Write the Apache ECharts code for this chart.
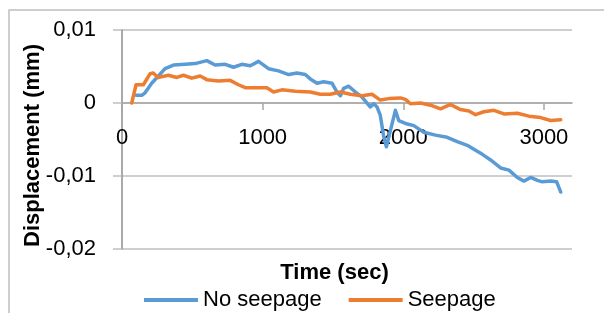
<!DOCTYPE html>
<html>
<head>
<meta charset="utf-8">
<script src="https://cdn.jsdelivr.net/npm/echarts@6/dist/echarts.min.js"></script>
<style>
html,body{margin:0;padding:0;background:#fff;}
#c{width:604px;height:313px;}
</style>
</head>
<body>
<div id="c"></div>
<script>
// ---- data ----
const seriesNames = ['No seepage', 'Seepage'];
const xTicks = [0, 1000, 2000, 3000];
const xTickLabels = ['0', '1000', '2000', '3000'];
const yTicks = [-0.02, -0.01, 0, 0.01];
const yTickLabels = ['-0,02', '-0,01', '0', '0,01'];

const noSeepageTime = [100,140,164,211,259,306,366,449,520,603,662,734,793,852,912,971,1000,1042,1113,1185,1244,1303,1339,1387,1434,1494,1529,1553,1576,1612,1660,1707,1766,1790,1814,1837,1860,1880,1944,1968,2016,2075,2146,2229,2312,2384,2455,2526,2560,2621,2692,2752,2811,2858,2906,2954,2989,3048,3091,3120];
const noSeepageDisp = [0.00105,0.00105,0.0014,0.0027,0.0037,0.0047,0.0052,0.0053,0.0054,0.0058,0.0052,0.0053,0.0049,0.0053,0.0051,0.0057,0.0053,0.0047,0.0044,0.0039,0.0041,0.0039,0.0033,0.0027,0.0029,0.0027,0.0015,0.0010,0.0020,0.0023,0.0015,0.0008,-0.00055,-0.0001,-0.00055,-0.0017,-0.0045,-0.0060,-0.0010,-0.0024,-0.0028,-0.0031,-0.0040,-0.0044,-0.0047,-0.0053,-0.0058,-0.0066,-0.0070,-0.0078,-0.0089,-0.0092,-0.0102,-0.0107,-0.0102,-0.0106,-0.0108,-0.0107,-0.0108,-0.0122];

const seepageTime = [69,100,152,199,222,256,330,390,437,496,556,603,686,769,828,876,947,1030,1078,1137,1232,1339,1410,1481,1553,1624,1707,1778,1837,1897,1980,2016,2051,2123,2194,2265,2336,2407,2467,2514,2573,2645,2716,2811,2894,2977,3048,3120];
const seepageDisp = [0,0.0025,0.0025,0.0040,0.0041,0.0035,0.0038,0.0035,0.0038,0.0034,0.0037,0.0032,0.0030,0.0031,0.0025,0.0021,0.0021,0.0021,0.0015,0.0018,0.0016,0.0015,0.0012,0.0012,0.0015,0.0012,0.0010,0.0012,0.0004,0.0006,0.0007,0.0005,-0.0001,0.0,-0.0003,-0.0008,-0.0002,-0.0009,-0.0011,-0.0016,-0.0012,-0.0010,-0.0015,-0.0014,-0.0018,-0.0020,-0.0024,-0.0023];

const pairs = (xs, ys) => xs.map((x, i) => [x, ys[i]]);
const nearestLabel = (ticks, labels, v) => {
  let best = 0, d = Infinity;
  ticks.forEach((t, i) => { if (Math.abs(t - v) < d) { d = Math.abs(t - v); best = i; } });
  return labels[best];
};
const FONT = '"Liberation Sans", Arial, sans-serif';

const GRID = {left: 122, right: 32, top: 30, bottom: 64};
const Y_MIN = -0.02, Y_MAX = 0.01;
// move the x axis (line, ticks, labels) up to the y = 0 position
const plotH = 313 - GRID.top - GRID.bottom;
const xAxisOffset = -Math.round(plotH * (0 - Y_MIN) / (Y_MAX - Y_MIN));

const chart = echarts.init(document.getElementById('c'), null, {renderer: 'canvas'});
chart.setOption({
  animation: false,
  backgroundColor: '#ffffff',
  color: ['#5B9BD5', '#ED7D31'],
  grid: GRID,
  xAxis: {
    type: 'value', min: 0, max: 3200, interval: 1000, offset: xAxisOffset,
    axisLine: {onZero: false, lineStyle: {color: '#a6a6a6', width: 1.5}},
    axisTick: {show: true, length: 7, lineStyle: {color: '#a6a6a6', width: 1.5}, customValues: xTicks},
    axisLabel: {color: '#000', fontFamily: FONT, fontSize: 22, lineHeight: 22, margin: 24, customValues: xTicks,
      formatter: v => nearestLabel(xTicks, xTickLabels, v)},
    splitLine: {show: false}
  },
  yAxis: {
    type: 'value', min: Y_MIN, max: Y_MAX, interval: 0.01,
    axisLine: {show: true, onZero: false, lineStyle: {color: '#8c8c8c', width: 1.5}},
    axisTick: {show: true, length: 9, lineStyle: {color: '#bfbfbf', width: 1.5}},
    axisLabel: {color: '#000', fontFamily: FONT, fontSize: 22, margin: 26,
      formatter: v => nearestLabel(yTicks, yTickLabels, v)},
    splitLine: {show: true, lineStyle: {color: '#bfbfbf', width: 1.5}}
  },
  legend: {
    data: seriesNames, left: 144, top: 289, icon: 'rect', padding: 0,
    itemWidth: 54, itemHeight: 4, itemGap: 27,
    textStyle: {color: '#000', fontFamily: FONT, fontSize: 22, lineHeight: 22}
  },
  graphic: [
    {type: 'rect', shape: {x: 9, y: 10, width: 700, height: 400}, style: {fill: 'none', stroke: '#bfbfbf', lineWidth: 1.5}, silent: true, z: -1},
    {type: 'text', x: 334.5, y: 273, style: {text: 'Time (sec)', font: 'bold 22px ' + FONT, fill: '#000', align: 'center', verticalAlign: 'middle'}},
    {type: 'text', x: 32.5, y: 145.5, rotation: Math.PI / 2, style: {text: 'Displacement (mm)', font: 'bold 22px ' + FONT, fill: '#000', align: 'center', verticalAlign: 'middle'}}
  ],
  series: [
    {name: seriesNames[0], type: 'line', data: pairs(noSeepageTime, noSeepageDisp), showSymbol: false, symbol: 'none',
     lineStyle: {width: 3.5, cap: 'round', join: 'round'}},
    {name: seriesNames[1], type: 'line', data: pairs(seepageTime, seepageDisp), showSymbol: false, symbol: 'none',
     lineStyle: {width: 3.5, cap: 'round', join: 'round'}}
  ]
});
</script>
</body>
</html>
